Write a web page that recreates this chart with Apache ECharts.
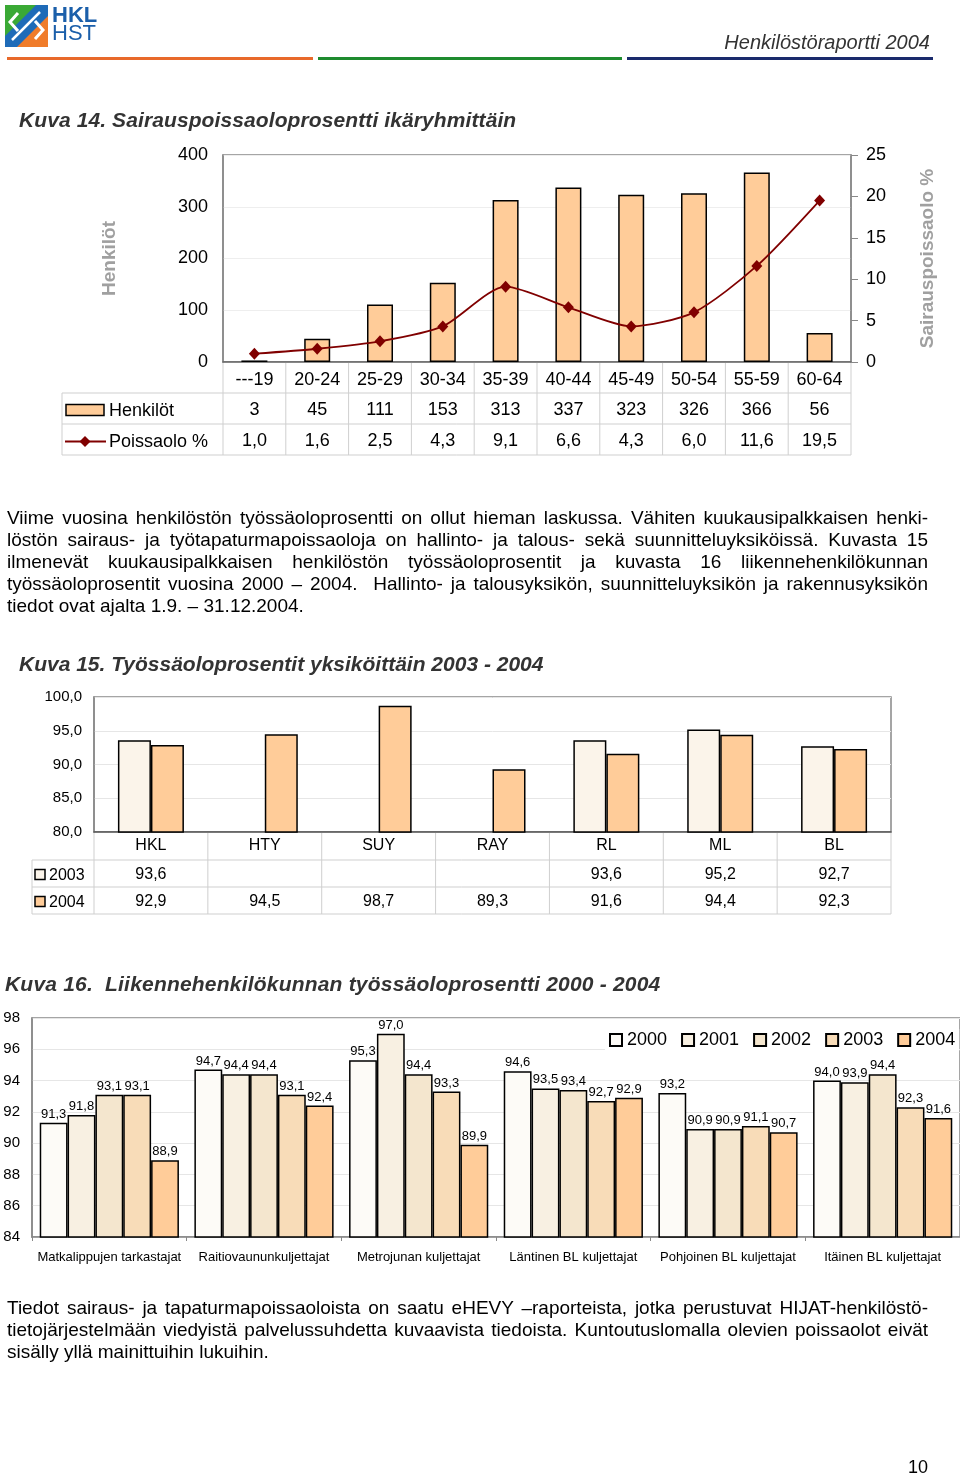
<!DOCTYPE html>
<html><head><meta charset="utf-8">
<script src="https://cdn.jsdelivr.net/npm/echarts@6/dist/echarts.min.js"></script>
<style>
html,body{margin:0;padding:0;background:#fff;}
#wrap{position:relative;width:960px;height:1475px;overflow:hidden;}
#chart{position:absolute;left:0;top:0;width:960px;height:1475px;}
.t{position:absolute;font-family:"Liberation Sans",Arial,sans-serif;color:#000;white-space:nowrap;}
.title{font-weight:bold;font-style:italic;font-size:21px;line-height:24px;color:#333;}
.para{left:7px;width:921px;font-size:19px;line-height:22px;}
.para div{text-align:justify;text-align-last:justify;white-space:nowrap;}
.para div.last{text-align:left;text-align-last:left;}
</style></head>
<body><div id="wrap">
<div id="chart"></div>
<div class="t" style="right:30px;top:31px;font-size:20px;line-height:22px;font-style:italic;color:#333;">Henkilöstöraportti 2004</div>
<div class="t title" style="left:19px;top:108px;letter-spacing:0.1px;">Kuva 14. Sairauspoissaoloprosentti ikäryhmittäin</div>
<div class="t para" style="top:507px;">
<div>Viime vuosina henkilöstön työssäoloprosentti on ollut hieman laskussa. Vähiten kuukausipalkkaisen henki-</div>
<div>löstön sairaus- ja työtapaturmapoissaoloja on hallinto- ja talous- sekä suunnitteluyksiköissä. Kuvasta 15</div>
<div>ilmenevät kuukausipalkkaisen henkilöstön työssäoloprosentit ja kuvasta 16 liikennehenkilökunnan</div>
<div>työssäoloprosentit vuosina 2000 – 2004.&nbsp; Hallinto- ja talousyksikön, suunnitteluyksikön ja rakennusyksikön</div>
<div class="last">tiedot ovat ajalta 1.9. – 31.12.2004.</div>
</div>
<div class="t title" style="left:19px;top:652px;">Kuva 15. Työssäoloprosentit yksiköittäin 2003 - 2004</div>
<div class="t title" style="left:5px;top:972px;letter-spacing:0.2px;">Kuva 16.&nbsp; Liikennehenkilökunnan työssäoloprosentti 2000 - 2004</div>
<div class="t para" style="top:1297px;">
<div>Tiedot sairaus- ja tapaturmapoissaoloista on saatu eHEVY –raporteista, jotka perustuvat HIJAT-henkilöstö-</div>
<div>tietojärjestelmään viedyistä palvelussuhdetta kuvaavista tiedoista. Kuntoutuslomalla olevien poissaolot eivät</div>
<div class="last">sisälly yllä mainittuihin lukuihin.</div>
</div>
<div class="t" style="left:908px;top:1456px;font-size:18px;line-height:22px;">10</div>
</div>
<script>
// ---- data ----
const ageGroups = ['---19','20-24','25-29','30-34','35-39','40-44','45-49','50-54','55-59','60-64'];
const henkilot = [3,45,111,153,313,337,323,326,366,56];
const poissaolo = [1.0,1.6,2.5,4.3,9.1,6.6,4.3,6.0,11.6,19.5];

const units = ['HKL','HTY','SUY','RAY','RL','ML','BL'];
const tyo2003 = [93.6,null,null,null,93.6,95.2,92.7];
const tyo2004 = [92.9,94.5,98.7,89.3,91.6,94.4,92.3];

const groups = ['Matkalippujen tarkastajat','Raitiovaununkuljettajat','Metrojunan kuljettajat','Läntinen BL kuljettajat','Pohjoinen BL kuljettajat','Itäinen BL kuljettajat'];
const years = ['2000','2001','2002','2003','2004'];
const v2000 = [91.3,94.7,95.3,94.6,93.2,94.0];
const v2001 = [91.8,94.4,97.0,93.5,90.9,93.9];
const v2002 = [93.1,94.4,94.4,93.4,90.9,94.4];
const v2003 = [93.1,93.1,93.3,92.7,91.1,92.3];
const v2004 = [88.9,92.4,89.9,92.9,90.7,91.6];

// ---- paragraph fitting: shrink letter spacing if a justified line overflows ----
document.querySelectorAll('.para div').forEach(d=>{
  const r = document.createRange(); r.selectNodeContents(d);
  const w = r.getBoundingClientRect().width;
  const avail = d.clientWidth;
  if (w > avail) {
    const n = d.textContent.length;
    d.style.letterSpacing = (-(w-avail+2)/n).toFixed(3)+'px';
  }
});

// ---- layout / style ----
const FF = '"Liberation Sans", Arial, sans-serif';
const fmt1 = v => (v == null ? '' : Number(v).toFixed(1).replace('.', ','));
const G1 = {left:223, top:155, width:628, height:207};
const G2 = {left:94, top:697, width:797, height:135};
const G3 = {left:32, top:1018, width:928, height:219};
const PEACH = '#FFCC99';
const C2003a = '#FBF4EA';
const yearColors = ['#FDFBF7','#F8F0E2','#F4E6CE','#F8DCB8','#FFCC99'];
const TL = '#cfcfcf';

const graphic = [];
function line(x1,y1,x2,y2,stroke,w){graphic.push({type:'line',silent:true,shape:{x1,y1,x2,y2},style:{stroke:stroke||TL,lineWidth:w||1}});}
function text(x,y,t,size,align,extra){graphic.push({type:'text',silent:true,x,y,style:Object.assign({text:t,font:(size||18)+'px '+FF,fill:'#000',textAlign:align||'center',align:align||'center',textVerticalAlign:'middle',verticalAlign:'middle'},extra||{})});}

// header
graphic.push({type:'rect',silent:true,shape:{x:5,y:5,width:43,height:42},style:{fill:'#1e6bb8'}});
graphic.push({type:'polygon',silent:true,shape:{points:[[5,5],[36,5],[5,36]]},style:{fill:'#3aa935'}});
graphic.push({type:'polygon',silent:true,shape:{points:[[48,16],[48,47],[17,47]]},style:{fill:'#f07c2a'}});
graphic.push({type:'polyline',silent:true,shape:{points:[[18,13],[10,22],[18,31]]},style:{stroke:'#fff',lineWidth:3,fill:null}});
graphic.push({type:'polyline',silent:true,shape:{points:[[35,21],[43,30],[35,39]]},style:{stroke:'#fff',lineWidth:3,fill:null}});
graphic.push({type:'polyline',silent:true,shape:{points:[[12,40],[26,26],[40,12]]},style:{stroke:'#fff',lineWidth:2.5,fill:null}});
text(52,16,'HKL',22,'left',{font:'bold 22px '+FF,fill:'#1b5faa'});
text(52,34,'HST',22,'left',{fill:'#1b5faa'});
graphic.push({type:'rect',silent:true,shape:{x:7,y:57,width:306,height:3},style:{fill:'#E8692A'}});
graphic.push({type:'rect',silent:true,shape:{x:318,y:57,width:304,height:3},style:{fill:'#1E8B2E'}});
graphic.push({type:'rect',silent:true,shape:{x:627,y:57,width:306,height:3},style:{fill:'#1A2A6C'}});

// table 1
(function(){
  const n = ageGroups.length, cw = G1.width/n, b = G1.top+G1.height;
  const r1 = b+31, r2 = r1+31, r3 = r2+31, xl = 62, xr = G1.left+G1.width;
  for(let i=0;i<=n;i++) line(G1.left+i*cw,b,G1.left+i*cw,r3);
  line(xl,r1,xl,r3); line(xl,r1,xr,r1); line(xl,r2,xr,r2); line(xl,r3,xr,r3);
  for(let i=0;i<n;i++){
    text(G1.left+(i+.5)*cw,(r1+r2)/2+2,String(henkilot[i]),18);
    text(G1.left+(i+.5)*cw,(r2+r3)/2+2,fmt1(poissaolo[i]),18);
  }
  graphic.push({type:'rect',silent:true,shape:{x:66,y:(r1+r2)/2-4,width:38,height:11},style:{fill:PEACH,stroke:'#000',lineWidth:1.5}});
  text(109,(r1+r2)/2+3,'Henkilöt',18,'left');
  const yl=(r2+r3)/2+2;
  line(65,yl,106,yl,'#800000',2);
  graphic.push({type:'polygon',silent:true,shape:{points:[[85,yl-5.5],[90.5,yl],[85,yl+5.5],[79.5,yl]]},style:{fill:'#800000'}});
  text(109,yl+1,'Poissaolo %',18,'left');
})();

// table 2
(function(){
  const n = units.length, cw = G2.width/n, b = G2.top+G2.height;
  const r1 = b+28, r2 = r1+27, r3 = r2+27, xl = 32, xr = G2.left+G2.width;
  for(let i=0;i<=n;i++) line(G2.left+i*cw,b,G2.left+i*cw,r3);
  line(xl,r1,xl,r3); line(xl,r1,xr,r1); line(xl,r2,xr,r2); line(xl,r3,xr,r3);
  for(let i=0;i<n;i++){
    text(G2.left+(i+.5)*cw,(r1+r2)/2+1,fmt1(tyo2003[i]),16);
    text(G2.left+(i+.5)*cw,(r2+r3)/2+1,fmt1(tyo2004[i]),16);
  }
  graphic.push({type:'rect',silent:true,shape:{x:35,y:(r1+r2)/2-4,width:10,height:10},style:{fill:C2003a,stroke:'#000',lineWidth:1.5}});
  text(49,(r1+r2)/2+2,'2003',16,'left');
  graphic.push({type:'rect',silent:true,shape:{x:35,y:(r2+r3)/2-4,width:10,height:10},style:{fill:PEACH,stroke:'#000',lineWidth:1.5}});
  text(49,(r2+r3)/2+2,'2004',16,'left');
})();

const yearData = [v2000,v2001,v2002,v2003,v2004];
const chart = echarts.init(document.getElementById('chart'));
chart.setOption({
  animation:false,
  textStyle:{fontFamily:FF},
  grid:[
    Object.assign({show:true,borderColor:'#888',borderWidth:1.5},G1),
    Object.assign({show:true,borderColor:'#888',borderWidth:1.5},G2),
    Object.assign({show:true,borderColor:'#888',borderWidth:1.5},G3)
  ],
  legend:{data:years,left:605,top:1029,itemWidth:12,itemHeight:12,itemGap:14,backgroundColor:'#fff',padding:[2,4],
    textStyle:{fontSize:18,color:'#000',fontFamily:FF},icon:'rect',selectedMode:false},
  xAxis:[
    {type:'category',gridIndex:0,data:ageGroups,axisLine:{lineStyle:{color:'#666',width:1.5}},axisTick:{show:false},
      axisLabel:{fontSize:18,color:'#000',margin:9}},
    {type:'category',gridIndex:1,data:units,axisLine:{lineStyle:{color:'#555',width:1.5}},axisTick:{show:false},
      axisLabel:{fontSize:16,color:'#000',margin:6}},
    {type:'category',gridIndex:2,data:groups,axisLine:{lineStyle:{color:'#888',width:1.5}},axisTick:{show:true,length:4,lineStyle:{color:'#888'}},
      axisLabel:{fontSize:13,color:'#000',margin:14,interval:0}}
  ],
  yAxis:[
    {type:'value',gridIndex:0,min:0,max:400,interval:100,name:'Henkilöt',nameLocation:'middle',nameGap:104,nameRotate:90,
      nameTextStyle:{color:'#A0A0A0',fontSize:19,fontWeight:'bold'},
      axisLine:{show:true,lineStyle:{color:'#888',width:1.5}},axisTick:{show:false},
      axisLabel:{fontSize:18,color:'#000',margin:15},splitLine:{lineStyle:{color:'#eeeeee'}}},
    {type:'value',gridIndex:0,position:'right',min:0,max:25,interval:5,name:'Sairauspoissaolo %',nameLocation:'middle',nameGap:67,nameRotate:90,
      nameTextStyle:{color:'#A0A0A0',fontSize:19,fontWeight:'bold'},
      axisLine:{show:true,lineStyle:{color:'#888',width:1.5}},axisTick:{show:true,length:7,lineStyle:{color:'#888'}},
      axisLabel:{fontSize:18,color:'#000',margin:15},splitLine:{show:false}},
    {type:'value',gridIndex:1,min:80,max:100,interval:5,axisLine:{show:true,lineStyle:{color:'#888',width:1.5}},axisTick:{show:false},
      axisLabel:{fontSize:15,color:'#000',margin:12,formatter:v=>fmt1(v)},splitLine:{lineStyle:{color:'#e6e6e6'}}},
    {type:'value',gridIndex:2,min:84,max:98,interval:2,axisLine:{show:true,lineStyle:{color:'#888',width:1.5}},axisTick:{show:false},
      axisLabel:{fontSize:15,color:'#000',margin:12},splitLine:{lineStyle:{color:'#e6e6e6'}}}
  ],
  series:[
    {type:'bar',name:'Henkilöt',xAxisIndex:0,yAxisIndex:0,data:henkilot,barWidth:26,
      itemStyle:{color:PEACH,borderColor:'#000',borderWidth:1.5}},
    {type:'line',name:'Poissaolo %',xAxisIndex:0,yAxisIndex:1,data:poissaolo,smooth:0.25,symbol:'diamond',symbolSize:[11,12],
      lineStyle:{color:'#800000',width:1.8},itemStyle:{color:'#800000'},z:5},
    {type:'bar',name:'K15-2003',xAxisIndex:1,yAxisIndex:2,data:tyo2003,barWidth:33,barGap:'0%',
      itemStyle:{color:C2003a,borderColor:'#000',borderWidth:1.5}},
    {type:'bar',name:'K15-2004',xAxisIndex:1,yAxisIndex:2,data:tyo2004,barWidth:33,barGap:'0%',
      itemStyle:{color:PEACH,borderColor:'#000',borderWidth:1.5}}
  ].concat(years.map((y,i)=>({
    type:'bar',name:y,xAxisIndex:2,yAxisIndex:3,data:yearData[i],barGap:'0%',barCategoryGap:'10%',
    itemStyle:{color:yearColors[i],borderColor:'#000',borderWidth:1.5},
    label:{show:true,position:'top',distance:2,fontSize:13,color:'#000',formatter:p=>fmt1(p.value)}
  }))),
  graphic:graphic
});
</script>
</body></html>
